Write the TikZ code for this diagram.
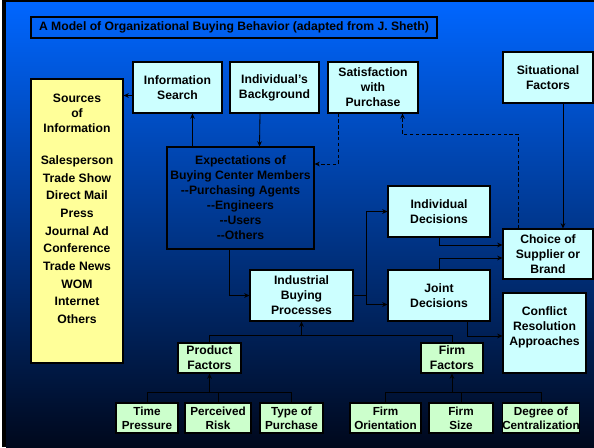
\documentclass[tikz,border=0pt]{standalone}
\usepackage{fontspec}
\setmainfont{Liberation Sans}
\usetikzlibrary{calc,arrows.meta}

\definecolor{panecyan}{HTML}{CCFFFF}
\definecolor{paneyellow}{HTML}{FFFF99}
\definecolor{panegreen}{HTML}{CCFFCC}
\definecolor{bgtop}{RGB}{0,102,255}
\definecolor{bgmid}{RGB}{0,58,170}
\definecolor{bgbot}{RGB}{0,8,28}

% two hyphens, kept apart from the en-dash ligature
\newcommand{\dd}{-\kern0pt-}
\newcommand{\boxfont}{\fontsize{10.4}{12.8}\selectfont\bfseries}
\newcommand{\smallboxfont}{\fontsize{10}{11.9}\selectfont\bfseries}

\tikzset{
	dims/.style 2 args={minimum width=#1*0.03cm, minimum height=#2*0.03cm},
	box/.style={rectangle, draw=black, line width=0.9pt, inner sep=0pt, align=center, font=\boxfont},
	cyanbox/.style={box, fill=panecyan},
	greenbox/.style={box, fill=panegreen},
	factorbox/.style={greenbox, font=\smallboxfont},
}

\begin{document}
\begin{tikzpicture}[x=0.03cm, y=-0.03cm, line width=0.7pt, >={Stealth[length=4.5pt,width=4pt]}]

	\useasboundingbox (0,0) rectangle (594,447);

	% slide background
	\fill[white] (0,0) rectangle (594,447);
	\fill[black] (2,0) rectangle (594,447);
	\shade[top color=bgtop, middle color=bgmid, bottom color=bgbot] (6,2) rectangle (594,447);

	\node 	(title)	at	(234,27.5)	[box, dims={406}{21}]{A Model of Organizational Buying Behavior (adapted from J. Sheth)};

	\node 	(srch)	at	(177.5,87.5)	[cyanbox, dims={89}{51}]{Information\\Search};
	\node 	(bkgd)	at	(274.5,87.5)	[cyanbox, dims={89}{51}]{Individual's\\Background};
	\node 	(satis)	at	(373,87.5)	[cyanbox, dims={90}{51}]{Satisfaction\\with\\Purchase};
	\node 	(situ)	at	(548,77.5)	[cyanbox, dims={90}{51}]{Situational\\Factors};

	\node 	(src)	at	(77,221)	[box, fill=paneyellow, inner ysep=15*0.03cm, dims={92}{284}]{\parbox[t][7.62cm][t]{2.76cm}{\centering
		Sources\\of\\Information\\[14.4pt]
		Salesperson\\[2.3pt] Trade Show\\[2.3pt] Direct Mail\\[2.3pt] Press\\[2.3pt] Journal Ad\\[2.3pt]
		Conference\\[2.3pt] Trade News\\[2.3pt] WOM\\[2.3pt] Internet\\[2.3pt] Others}};

	\node 	(expt)	at	(240.5,198)	[box, dims={147}{102}]{Expectations of\\Buying Center Members\\\dd Purchasing Agents\\\dd Engineers\\\dd Users\\\dd Others};

	\node 	(ibp)	at	(301.5,295.5)	[cyanbox, dims={103}{51}]{Industrial\\Buying\\Processes};
	\node 	(indd)	at	(439,211.5)	[cyanbox, dims={102}{51}]{Individual\\Decisions};
	\node 	(jntd)	at	(439,295.5)	[cyanbox, dims={102}{51}]{Joint\\Decisions};
	\node 	(chce)	at	(548,254)	[cyanbox, dims={90}{50}]{Choice of\\Supplier or\\Brand};
	\node 	(cnfl)	at	(544.5,333)	[cyanbox, inner ysep=14*0.03cm, dims={83}{80}]{\parbox[t][1.56cm][t]{2.49cm}{\centering Conflict\\Resolution\\Approaches}};

	\node 	(prod)	at	(209.5,358)	[greenbox, dims={63}{30}]{Product\\Factors};
	\node 	(firm)	at	(452,358)	[greenbox, dims={62}{30}]{Firm\\Factors};

	\node 	(time)	at	(147,418)	[factorbox, dims={62}{30}]{Time\\Pressure};
	\node 	(risk)	at	(218,418)	[factorbox, dims={66}{30}]{Perceived\\Risk};
	\node 	(type)	at	(291.5,418)	[factorbox, dims={63}{30}]{Type of\\Purchase};
	\node 	(ornt)	at	(385.5,418)	[factorbox, dims={71}{30}]{Firm\\Orientation};
	\node 	(size)	at	(461,418)	[factorbox, dims={64}{30}]{Firm\\Size};
	\node 	(cntr)	at	(541,418)	[factorbox, dims={76}{30}]{Degree of\\Centralization};

	% search, background and feedback
	\coordinate (s1) at ($(srch.west)+(0,8)$);
	\draw[->]	(s1)	--	(s1 -| src.east);
	\draw[->]	($(expt.north west)+(26,0)$)	--	($(srch.south west)+(60,0)$);
	\draw[->]	($(bkgd.south)+(-14.5,0)$)	--	($(expt.north west)+(93,0)$);
	\draw[->, densely dashed]	($(satis.south west)+(11,0)$)	|-	($(expt.east)+(0,-34)$);
	\draw[->, densely dashed]	($(chce.north west)+(16,0)$)	--	++(0,-94)	-|	($(satis.south east)+(-16,0)$);
	\draw[->]	($(situ.south)+(15,0)$)	--	($(chce.north)+(15,0)$);

	% buying process and decisions
	\draw[->]	($(expt.south west)+(63,0)$)	|-	(ibp.west);
	\draw[->]	(ibp.east)	--	++(13,0)	|-	(indd.west);
	\draw[->]	(ibp.east)	--	++(13,0)	|-	($(jntd.west)+(0,9)$);
	\draw[->]	(indd.south)	|-	($(chce.west)+(0,-9)$);
	\draw[->]	(jntd.north)	|-	($(chce.west)+(0,4)$);
	\draw[->]	($(jntd.south)+(28,0)$)	|-	($(cnfl.west)+(0,3)$);

	% factors
	\draw	(prod.north)	--	++(0,-7)	coordinate (pj)	-|	(firm.north);
	\draw[->]	(pj -| ibp.south)	--	(ibp.south);
	\draw	(time.north)	--	++(0,-10)	coordinate (tj)	-|	(type.north);
	\draw	(risk.north)	--	(risk.north |- tj);
	\draw[->]	(tj -| prod.south)	--	(prod.south);
	\draw	(ornt.north)	--	++(0,-10)	coordinate (fj)	-|	(cntr.north);
	\draw	(size.north)	--	(size.north |- fj);
	\draw[->]	(fj -| firm.south)	--	(firm.south);

\end{tikzpicture}
\end{document}
